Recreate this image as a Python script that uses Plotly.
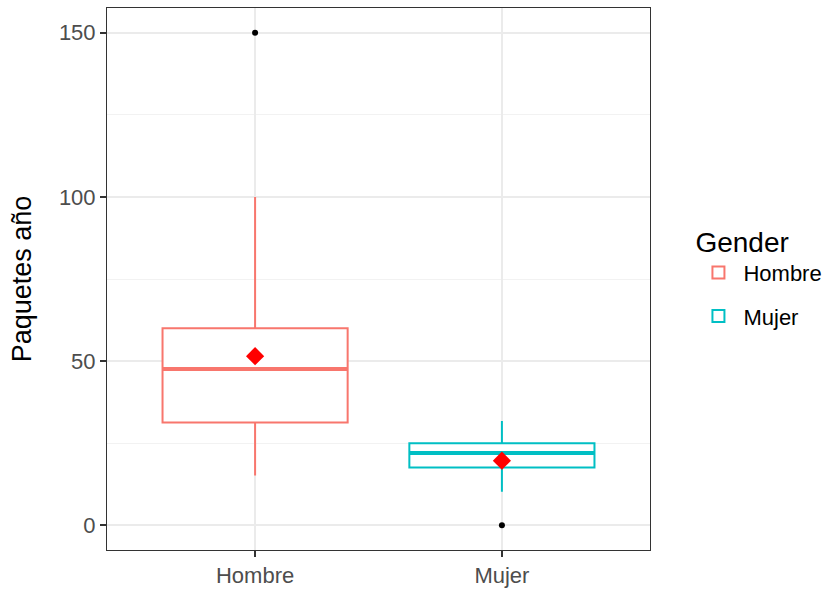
import plotly.graph_objects as go

categories = ["Hombre", "Mujer"]
colors = ["#F8766D", "#00BFC4"]
q1 = [31.3, 17.6]
median = [47.6, 22.0]
q3 = [60.0, 25.0]
lower = [15.2, 10.2]
upper = [100.0, 31.8]
means = [51.5, 19.7]
outliers = [[150.0], [0.0]]

positions = [1, 2]
box_w = 0.75

fig = go.Figure()
for i, cat in enumerate(categories):
    fig.add_trace(go.Box(
        x=[positions[i]], q1=[q1[i]], median=[median[i]], q3=[q3[i]],
        lowerfence=[lower[i]], upperfence=[upper[i]],
        name=cat, legendgroup=cat, width=box_w,
        line=dict(color=colors[i], width=2), fillcolor="white",
        boxpoints=False, whiskerwidth=0,
    ))
    # thicker median line (ggplot fatten)
    fig.add_trace(go.Scatter(
        x=[positions[i] - box_w / 2, positions[i] + box_w / 2],
        y=[median[i], median[i]], mode="lines",
        line=dict(color=colors[i], width=4), showlegend=False,
        legendgroup=cat, hoverinfo="skip",
    ))
    fig.add_trace(go.Scatter(
        x=[positions[i]] * len(outliers[i]), y=outliers[i], mode="markers",
        marker=dict(color="black", size=6), showlegend=False, hoverinfo="y",
        legendgroup=cat,
    ))

fig.add_trace(go.Scatter(
    x=positions, y=means, mode="markers",
    marker=dict(symbol="diamond", color="red", size=14), showlegend=False,
))

fig.update_layout(
    width=835, height=590,
    margin=dict(l=107, r=185, t=8, b=40),
    plot_bgcolor="white", paper_bgcolor="white",
    boxmode="overlay",
    font=dict(family="Liberation Sans, Arial, sans-serif"),
    legend=dict(
        title=dict(text="Gender", font=dict(size=28, color="black")),
        font=dict(size=22, color="black"),
        traceorder="grouped", tracegroupgap=12, itemwidth=40,
        x=1.08, xanchor="left", y=0.505, yanchor="middle",
        bgcolor="rgba(0,0,0,0)",
    ),
    showlegend=True,
)
fig.update_xaxes(
    range=[0.4, 2.6], tickvals=positions, ticktext=categories,
    showgrid=True, gridcolor="#EBEBEB", gridwidth=1.5, automargin=False,
    ticks="outside", ticklen=6, tickcolor="#333333", tickwidth=1.5,
    tickfont=dict(size=22, color="#4D4D4D"),
    showline=True, linecolor="#333333", linewidth=1, mirror=True, zeroline=False,
)
fig.update_yaxes(
    range=[-7.5, 157.5], tickvals=[0, 50, 100, 150],
    showgrid=True, gridcolor="#EBEBEB", gridwidth=1.5,
    minor=dict(tickvals=[25, 75, 125], showgrid=True, gridcolor="#F2F2F2", gridwidth=0.8, ticks=""),
    ticks="outside", ticklen=6, tickcolor="#333333", tickwidth=1.5,
    tickfont=dict(size=22, color="#4D4D4D"),
    title=dict(text="Paquetes año", font=dict(size=27, color="black"), standoff=19),
    showline=True, linecolor="#333333", linewidth=1, mirror=True, zeroline=False,
)

fig.write_html("out.html")
